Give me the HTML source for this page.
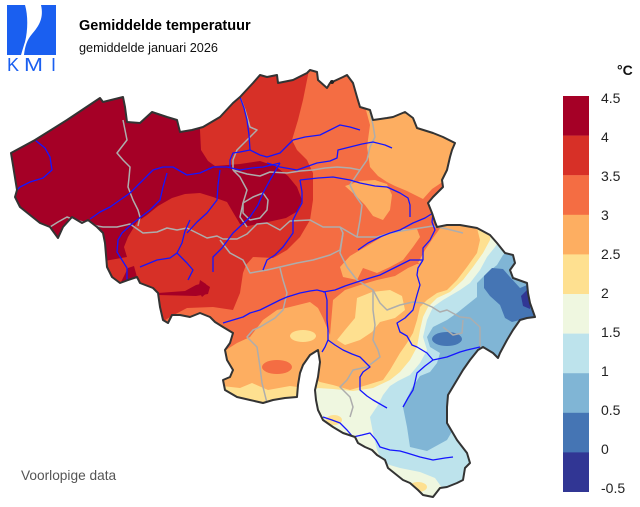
<!DOCTYPE html>
<html><head><meta charset="utf-8"><style>
html,body{margin:0;padding:0;background:#fff;}
svg{display:block;font-family:"Liberation Sans",sans-serif;}
</style></head><body>
<svg width="640" height="507" viewBox="0 0 640 507" xmlns="http://www.w3.org/2000/svg">
<defs>
<clipPath id="bel"><path id="outl" d="M11,153 L35,140 L67,120 L97,100 L100,98 L103,102 L123,97 L125,107 L127,122 L140,123 L152,112 L167,117 L177,120 L180,132 L192,130 L203,127 L220,117 L233,103 L240,97 L253,83 L260,75 L267,77 L277,75 L278,83 L293,80 L307,73 L310,70 L317,72 L318,80 L327,88 L330,83 L343,77 L347,75 L353,83 L357,97 L360,107 L370,110 L373,120 L387,118 L393,117 L405,112 L413,118 L417,128 L433,133 L443,137 L455,143 L452,150 L450,157 L447,170 L442,180 L443,187 L433,197 L428,203 L432,213 L435,222 L437,227 L447,225 L460,225 L477,228 L490,235 L497,243 L505,253 L513,255 L515,263 L510,270 L513,278 L527,283 L528,293 L530,303 L535,317 L527,318 L520,320 L513,330 L507,340 L500,353 L498,358 L493,353 L483,347 L478,350 L470,360 L463,370 L457,380 L448,395 L447,407 L447,423 L457,440 L467,453 L470,463 L465,468 L463,480 L457,483 L447,487 L440,488 L433,497 L423,495 L418,490 L410,483 L403,480 L393,472 L388,468 L385,460 L377,455 L372,450 L365,447 L358,443 L355,437 L343,433 L333,427 L323,420 L318,410 L316,400 L315,390 L318,377 L320,362 L318,350 L310,355 L303,365 L300,373 L298,385 L297,397 L285,398 L273,400 L263,403 L250,400 L237,397 L225,390 L223,380 L230,377 L233,370 L227,360 L225,350 L230,343 L233,333 L223,327 L215,322 L210,317 L200,313 L190,317 L180,315 L172,315 L168,323 L163,320 L160,307 L158,293 L153,288 L140,283 L137,277 L128,280 L120,283 L112,277 L107,267 L105,243 L103,233 L97,227 L88,220 L82,223 L72,217 L63,227 L58,238 L50,227 L40,223 L20,207 L15,197 L17,190 Z"/></clipPath>
</defs>

<!-- Logo -->
<path d="M7,5 L25,5 C28,15 28,30 25,42 C23,48 22,52 21,55 L7,55 Z" fill="#1a5ff0"/>
<path d="M41,5 L56,5 L56,55 L24,55 C25,46 27,40 32,34 C39,26 44,18 41,5 Z" fill="#1a5ff0"/>
<text x="7" y="71" font-size="18" fill="#1a5ff0">K</text>
<text x="24" y="71" font-size="18" fill="#1a5ff0" textLength="19" lengthAdjust="spacingAndGlyphs">M</text>
<text x="51" y="71" font-size="18" fill="#1a5ff0">I</text>

<!-- Titles -->
<text x="79" y="30" font-size="14.5" font-weight="bold" fill="#000">Gemiddelde temperatuur</text>
<text x="79" y="52" font-size="12.7" fill="#111">gemiddelde januari 2026</text>
<text x="21" y="480" font-size="13.7" fill="#555">Voorlopige data</text>

<!-- Map fills -->
<g clip-path="url(#bel)">
<rect x="0" y="50" width="560" height="460" fill="#f46d43"/>
<polygon fill="#d73027" points="180,55 312,55 308,75 303,100 298,120 292,140 297,150 307,160 313,173 313,200 310,220 300,237 287,250 273,258 253,257 246,265 243,273 240,293 233,310 213,307 187,308 170,317 150,330 0,330 0,55"/>
<polygon fill="#a50026" points="0,55 200,55 200,130 201,150 208,161 215,166 240,164 260,161 275,166 288,176 297,187 302,200 298,211 286,218 268,222 248,226 240,224 234,214 227,202 213,197 200,193 185,194 172,198 158,206 147,215 137,222 128,237 124,247 127,257 110,260 100,262 0,300"/>
<polygon fill="#a50026" points="120,284 128,268 134,266 137,277 128,281"/>
<polygon fill="#a50026" points="158,293 185,291 196,285 204,283 210,287 208,294 196,296 158,295"/>
<polygon fill="#a50026" points="200,280 206,284 208,292 202,297 198,290"/>

<polygon fill="#fdae61" points="362,95 470,95 470,178 444,181 432,189 423,199 407,191 395,186 387,182 378,176 370,167 367,147 370,125"/>
<polygon fill="#fdae61" points="345,186 360,181 375,180 387,184 392,195 390,210 383,220 373,216 365,205 355,195"/>
<polygon fill="#fdae61" points="417,229 403,229 390,232 367,246 350,256 340,267 343,277 357,280 363,268 377,273 390,267 403,260 413,247 420,237"/>
<polygon fill="#fdae61" points="441,227 440,212 505,212 485,250 455,264 430,268 418,263 425,250 433,238"/>
<polygon fill="#fdae61" points="218,355 237,343 250,337 263,320 277,310 290,307 310,302 318,308 323,318 330,335 333,300 345,290 360,285 377,280 395,276 408,268 417,264 440,266 470,245 480,520 210,520"/>
<ellipse cx="277" cy="367" rx="15" ry="7" fill="#f46d43"/>
<polygon fill="#fdae61" points="443,205 500,205 500,275 443,275"/>

<polygon fill="#fee090" points="222,386 240,388 252,383 268,390 290,386 305,388 305,412 218,412"/>
<ellipse cx="303" cy="336" rx="13" ry="6" fill="#fee090"/>
<polygon fill="#fee090" points="357,298 372,292 390,290 402,296 405,310 395,318 380,322 372,332 360,340 345,345 337,340 345,330 355,318"/>
<polygon fill="#fee090" points="477,200 477,228 480,240 477,253 467,267 457,280 447,290 437,293 427,300 420,307 417,320 413,333 407,343 400,353 390,370 383,380 367,385 350,390 333,385 320,382 313,378 300,380 300,520 560,520 560,200"/>
<polygon fill="#eff7e0" points="492,220 490,240 483,253 473,267 463,280 450,292 437,298 428,307 423,317 420,330 417,347 410,360 400,372 390,380 373,388 353,391 333,389 318,388 300,395 300,520 560,520 560,200 500,200"/>
<ellipse cx="334" cy="420" rx="8" ry="5" fill="#fee090"/>
<ellipse cx="418" cy="487" rx="9" ry="5" fill="#fee090"/>
<polygon fill="#bde3ec" points="505,230 500,240 495,247 487,257 480,270 470,283 460,290 443,300 433,307 427,320 423,337 427,350 420,363 410,375 398,381 390,386 383,395 378,405 370,417 373,433 377,450 383,463 400,468 420,472 435,478 445,492 560,520 560,200 510,200"/>
<polygon fill="#80b5d5" points="515,245 503,255 497,265 487,273 477,283 477,297 467,305 457,313 447,320 433,327 427,337 430,347 440,353 437,363 430,372 420,376 412,388 403,407 407,427 410,447 427,451 447,440 457,423 470,420 560,420 560,240"/>
<polygon fill="#4575b4" points="484,276 492,268 503,269 510,277 520,288 527,285 535,318 520,320 512,322 505,318 500,305 490,296 484,288"/>
<ellipse cx="447" cy="339" rx="15" ry="7" fill="#4575b4"/>
<polygon fill="#313694" points="521,296 527,290 531,298 530,309 523,306"/>

<!-- provincial borders -->
<g fill="none" stroke="#adadad" stroke-width="1.5" stroke-linejoin="round">
<polyline points="123,120 125,130 127,140 117,153 123,160 130,167 129,178 128,187 133,200 138,210 140,217 138,226"/>
<polyline points="50,227 58,222 67,217 75,220 87,223 97,226 103,227 117,227 130,224 143,233 157,232 167,228 177,230 187,228 197,233 207,238 217,236 223,239 237,239 247,234 257,224 267,223 280,230 290,221 310,220 323,227 340,227 357,237 377,237 390,233 407,230 420,228 433,226 447,229 463,233"/>
<polyline points="240,97 245,110 250,127 257,130 250,137 247,140 237,150 233,160 233,170"/>
<polyline points="233,170 247,174 260,176 270,172 287,173 300,171 313,170 325,168 337,167 350,168 360,170"/>
<polyline points="233,170 240,177 247,190 243,203 240,217 247,227"/>
<polyline points="243,203 253,197 263,193 268,200 267,210 260,218 250,220 243,213 243,203"/>
<polyline points="370,112 373,125 375,137 370,147 367,160 360,170 350,185 355,195 362,205 360,220 357,237"/>
<polyline points="220,240 230,253 243,260 250,273 267,270 280,267 297,263 313,260 330,255 340,250 343,233 340,227"/>
<polyline points="280,268 283,280 287,293 283,310 275,318 260,327 253,330 247,337 257,347 260,367 262,383 267,403"/>
<polyline points="343,233 340,253 347,267 357,280 373,290 380,303 387,310 400,305 413,302 423,303 432,307 440,312 447,310 460,317 470,318 480,327 480,347"/>
<polyline points="373,290 373,310 375,325 373,340 378,350 380,357 367,367 353,370 347,380 340,387 350,397 353,407 350,417"/>
<polyline points="443,327 453,335 462,333 463,320"/>
</g>

<!-- rivers -->
<g fill="none" stroke="#1515ff" stroke-width="1.3" stroke-linejoin="round">
<polyline points="35,140 45,148 50,157 52,170 43,178 30,182 20,187 17,190"/>
<polyline points="90,219 100,212 110,207 120,200 130,193 140,183 148,175 153,170 163,167 173,167 180,171 187,175 200,173 213,167 227,167 240,170 252,168 263,167 280,163"/>
<polyline points="127,280 127,268 117,252 118,240 122,233 133,223 150,210 160,200 163,187 167,173"/>
<polyline points="187,233 197,222 207,213 217,200 218,185 220,170"/>
<polyline points="140,267 157,260 170,258 177,253 182,243 185,231 190,220"/>
<polyline points="177,253 187,263 193,270 188,280"/>
<polyline points="213,272 213,257 222,248 233,233 250,217 258,205 263,193 270,180 280,163"/>
<polyline points="240,97 244,108 247,120 249,135 250,150 240,152 233,153 230,160 230,167"/>
<polyline points="250,150 260,155 267,157 280,153 293,140 305,137 320,135 330,130 340,125 350,127 360,130"/>
<polyline points="267,163 280,167 297,170 317,163 330,161 337,158 338,150 350,147 362,144 373,142 385,145 392,148"/>
<polyline points="300,180 318,178 333,177 350,180 360,183 375,186 387,187 400,193 408,198 410,205 410,217"/>
<polyline points="300,180 302,192 302,203 297,212 293,220 293,233 283,247 275,255 267,260 263,270"/>
<polyline points="358,250 368,243 380,237 390,233 400,230 413,223 425,218 433,213"/>
<polyline points="433,213 432,222 435,230 430,240 423,248 423,260"/>
<polyline points="323,292 335,290 345,286 357,282 370,278 380,275 390,270 400,265 410,260 423,260"/>
<polyline points="423,260 418,268 417,275 420,285 417,295 413,310 405,318 397,323 400,332 407,336 412,345 417,347 427,353 433,360 447,357 460,352 467,350 480,347"/>
<polyline points="433,360 425,366 417,373 415,382 413,390 408,398 403,407"/>
<polyline points="223,323 233,320 243,317 250,313 260,310 270,305 280,300 287,297 300,293 310,291 317,290 325,292"/>
<polyline points="325,292 327,300 327,307 327,320 328,330 328,340 325,347 322,352"/>
<polyline points="328,340 335,345 343,350 352,354 360,357 365,362 370,367 363,372 360,377 360,390 367,396 373,400 380,404 387,408"/>
<polyline points="323,417 332,420 340,423 347,430 353,437 362,435 370,433 376,440 380,447 390,450 400,451 407,453 420,457 433,460 445,458 453,457"/>
</g>
</g>
<use href="#outl" fill="none" stroke="#333" stroke-width="2" stroke-linejoin="round"/>
<ellipse cx="332" cy="82" rx="2.2" ry="2" fill="#222"/>

<!-- Colorbar -->
<rect x="563" y="96" width="26" height="39.8" fill="#a50026"/>
<rect x="563" y="135.6" width="26" height="39.8" fill="#d73027"/>
<rect x="563" y="175.2" width="26" height="39.8" fill="#f46d43"/>
<rect x="563" y="214.8" width="26" height="39.8" fill="#fdae61"/>
<rect x="563" y="254.4" width="26" height="39.8" fill="#fee090"/>
<rect x="563" y="294" width="26" height="39.8" fill="#eff7e0"/>
<rect x="563" y="333.6" width="26" height="39.8" fill="#bde3ec"/>
<rect x="563" y="373.2" width="26" height="39.8" fill="#80b5d5"/>
<rect x="563" y="412.8" width="26" height="39.8" fill="#4575b4"/>
<rect x="563" y="452.4" width="26" height="39.6" fill="#313694"/>
<text x="617" y="75" font-size="14" font-weight="bold" fill="#111">°C</text>
<g font-size="14" fill="#222">
<text x="601" y="103">4.5</text>
<text x="601" y="142">4</text>
<text x="601" y="181">3.5</text>
<text x="601" y="220">3</text>
<text x="601" y="259">2.5</text>
<text x="601" y="298">2</text>
<text x="601" y="337">1.5</text>
<text x="601" y="376">1</text>
<text x="601" y="415">0.5</text>
<text x="601" y="454">0</text>
<text x="601" y="493">-0.5</text>
</g>
</svg>
</body></html>
